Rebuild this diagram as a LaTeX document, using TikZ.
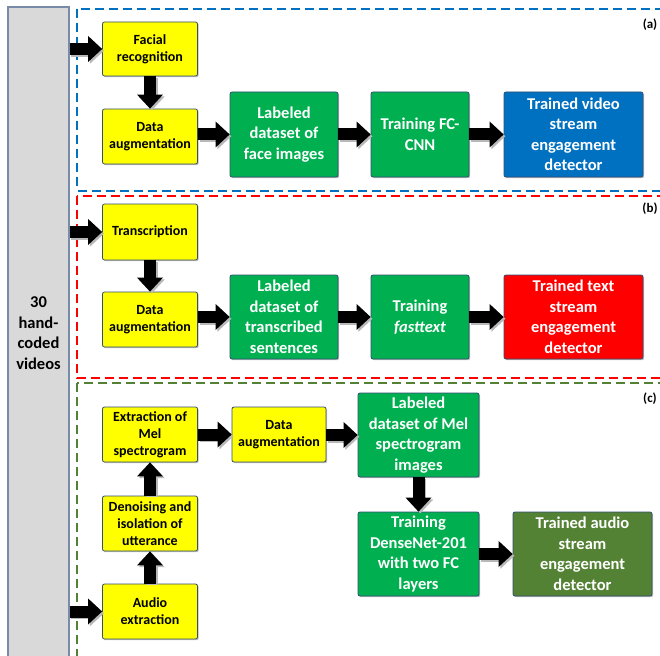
\documentclass[tikz,border=0pt]{standalone}
\usepackage{fontspec}
\setmainfont{Carlito}
\usetikzlibrary{arrows.meta,shadows}

\definecolor{boxyellow}{RGB}{255,255,0}
\definecolor{boxgreen}{RGB}{0,176,80}
\definecolor{boxblue}{RGB}{0,112,192}
\definecolor{boxred}{RGB}{255,0,0}
\definecolor{boxolive}{RGB}{84,130,53}
\definecolor{boxedge}{RGB}{52,78,115}
\definecolor{panelgray}{RGB}{217,217,217}
\definecolor{paneledge}{RGB}{120,140,170}
\definecolor{dashblue}{RGB}{0,112,192}
\definecolor{dashred}{RGB}{255,0,0}
\definecolor{dashgreen}{RGB}{84,130,53}

\tikzset{
  box/.style={draw=boxedge, line width=0.8pt, rounded corners=2pt, align=center,
    inner sep=1pt, drop shadow={shadow xshift=1.2pt, shadow yshift=-1.2pt, opacity=0.25, fill=black}},
  ybox/.style={box, fill=boxyellow, text=black, minimum width=95pt, minimum height=55pt,
    font=\bfseries\fontsize{14}{16.8}\selectfont},
  cbox/.style={box, text=white, minimum height=85pt,
    font=\bfseries\fontsize{16.5}{20.5}\selectfont},
  gbox/.style={cbox, fill=boxgreen},
  panel/.style={draw=paneledge, line width=1.2pt, fill=panelgray, align=center,
    font=\bfseries\fontsize{16.5}{20.5}\selectfont},
  stage/.style={line width=2pt, dash pattern=on 9pt off 5pt},
  tag/.style={font=\bfseries\fontsize{13}{15}\selectfont, inner sep=0pt},
  blockarrow/.style={line width=12pt, draw=black,
    -{Triangle[length=14pt,width=26pt,line width=0pt]}},
  arrowshade/.style={blockarrow, draw=black!28,
    transform canvas={shift={(1.8pt,-1.8pt)}}},
}
% thick black flow arrow with a soft offset shade
\newcommand\flowarrow[2]{%
  \draw[arrowshade] (#1) -- (#2);
  \draw[blockarrow] (#1) -- (#2);}

\begin{document}
\begin{tikzpicture}[x=1pt,y=-1pt]
\useasboundingbox (0,0) rectangle (660,655);
\begin{scope}
\clip (0,0) rectangle (660,655);

% source column
\node[panel, minimum width=61pt, minimum height=652pt] (src) at (38.5,333)
  {30\\hand-\\coded\\videos};

% stage frames
\draw[stage, draw=dashblue]  (77,9)   rectangle (700,190.5);
\draw[stage, draw=dashred]   (77,195.5) rectangle (700,378);
\draw[stage, draw=dashgreen] (77,383) rectangle (700,720);

\node[tag] (ta) at (650,25)  {(a)};
\node[tag] (tb) at (650,209) {(b)};
\node[tag] (tc) at (650,399) {(c)};

% (a) video stream
\node[ybox, minimum height=54pt] (fr) at (150,49) {Facial\\recognition};
\node[ybox] (da1) at (150,136.5) {Data\\augmentation};
\node[gbox, minimum width=108pt] (l1) at (284,134.5) {Labeled\\dataset of\\face images};
\node[gbox, minimum width=98pt] (t1) at (420,134.5) {Training FC-\\CNN};
\node[cbox, fill=boxblue, minimum width=139pt] (r1) at (573.5,134.5)
  {Trained video\\stream\\engagement\\detector};

% (b) text stream
\node[ybox, minimum height=56pt] (tr) at (150,232) {Transcription};
\node[ybox] (da2) at (150,319.5) {Data\\augmentation};
\node[gbox, minimum width=108pt, minimum height=84pt] (l2) at (284,317)
  {Labeled\\dataset of\\transcribed\\sentences};
\node[gbox, minimum width=98pt, minimum height=84pt] (t2) at (420,317)
  {Training\\\textit{fasttext}};
\node[cbox, fill=boxred, minimum width=139pt, minimum height=84pt] (r2) at (573.5,317)
  {Trained text\\stream\\engagement\\detector};

% (c) audio stream
\node[ybox] (ex) at (150,434.5) {Extraction of\\Mel\\spectrogram};
\node[ybox, minimum width=94pt] (da3) at (279,434.5) {Data\\augmentation};
\node[ybox] (dn) at (150,523.5) {Denoising and\\isolation of\\utterance};
\node[ybox] (au) at (150,611.5) {Audio\\extraction};
\node[gbox, minimum width=121pt, minimum height=84pt] (l3) at (418.5,435)
  {Labeled\\dataset of Mel\\spectrogram\\images};
\node[gbox, minimum width=121pt, minimum height=84pt] (t3) at (418.5,554)
  {Training\\DenseNet-201\\with two FC\\layers};
\node[cbox, fill=boxolive, minimum width=139pt, minimum height=84pt] (r3) at (582.5,554)
  {Trained audio\\stream\\engagement\\detector};

% connectors
\flowarrow{src.east |- fr.west}{fr.west}
\flowarrow{fr.south}{da1.north}
\flowarrow{da1.east |- l1.west}{l1.west}
\flowarrow{l1.east}{t1.west}
\flowarrow{t1.east}{r1.west}

\flowarrow{src.east |- tr.west}{tr.west}
\flowarrow{tr.south}{da2.north}
\flowarrow{da2.east |- l2.west}{l2.west}
\flowarrow{l2.east}{t2.west}
\flowarrow{t2.east}{r2.west}

\flowarrow{src.east |- au.west}{au.west}
\flowarrow{au.north}{dn.south}
\flowarrow{dn.north}{ex.south}
\flowarrow{ex.east}{da3.west}
\flowarrow{da3.east |- l3.west}{l3.west}
\flowarrow{l3.south}{t3.north}
\flowarrow{t3.east}{r3.west}
\end{scope}
\end{tikzpicture}
\end{document}
